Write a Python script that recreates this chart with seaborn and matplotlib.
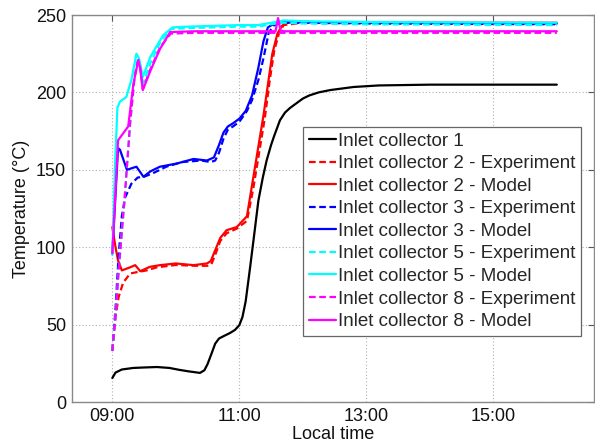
import numpy as np
import pandas as pd
import matplotlib
matplotlib.use("Agg")
import matplotlib.pyplot as plt
import seaborn as sns
from matplotlib.ticker import FixedLocator, FuncFormatter

# ---------------- data (time in hours, temperature in °C) ----------------
t_c1 = [9.0, 9.05, 9.15, 9.33, 9.5, 9.7, 9.9, 10.05, 10.2, 10.38, 10.45, 10.5, 10.56, 10.62, 10.68, 10.75,
        10.85, 10.93, 11.0, 11.05, 11.1, 11.17, 11.24, 11.3, 11.37, 11.43, 11.5, 11.55, 11.64, 11.72, 11.8,
        11.9, 12.0, 12.1, 12.25, 12.43, 12.8, 13.2, 14.0, 16.0]
T_c1 = [15.5, 19.0, 21.0, 22.0, 22.3, 22.6, 22.0, 20.8, 19.8, 18.8, 20.5, 24.5, 31.0, 37.7, 41.0, 42.5,
        44.5, 46.5, 49.6, 55.0, 65.0, 87.0, 110.0, 130.0, 145.0, 156.0, 166.0, 172.0, 182.0, 187.0, 190.0,
        193.0, 196.0, 198.0, 200.0, 201.5, 203.5, 204.5, 205.0, 205.0]

t_c2_exp = [9.0, 9.05, 9.1, 9.17, 9.28, 9.4, 9.54, 9.7, 10.0, 10.3, 10.5, 10.56, 10.62, 10.7, 10.8, 10.96,
            11.12, 11.22, 11.3, 11.4, 11.48, 11.55, 11.63, 11.7, 12.0, 13.0, 16.0]
T_c2_exp = [33.0, 55.0, 68.0, 77.0, 83.0, 84.0, 85.0, 87.0, 88.5, 88.0, 88.0, 89.0, 95.0, 104.0, 109.0, 112.0,
            117.0, 138.0, 158.0, 183.0, 208.0, 227.0, 239.0, 243.5, 245.0, 245.0, 244.5]

t_c2_mod = [9.0, 9.05, 9.09, 9.15, 9.28, 9.36, 9.44, 9.59, 9.75, 10.0, 10.28, 10.49, 10.55, 10.62, 10.7, 10.8, 10.96,
            11.12, 11.22, 11.3, 11.38, 11.45, 11.52, 11.6, 11.67, 11.75, 12.0, 13.0, 16.0]
T_c2_mod = [113.0, 100.0, 91.5, 85.0, 87.0, 88.4, 84.5, 87.3, 88.4, 89.5, 88.4, 89.5, 91.0, 98.0, 106.0, 111.0, 113.0,
            120.0, 145.0, 165.0, 185.0, 205.0, 225.0, 238.0, 243.0, 245.0, 245.5, 245.0, 245.0]

t_c3_exp = [9.0, 9.05, 9.1, 9.15, 9.2, 9.3, 9.4, 9.5, 9.65, 9.85, 10.1, 10.4, 10.55, 10.62, 10.68, 10.75,
            10.82, 10.9, 11.0, 11.12, 11.2, 11.3, 11.38, 11.46, 11.53, 11.65, 12.0, 13.0, 16.0]
T_c3_exp = [33.0, 60.0, 95.0, 120.0, 132.0, 141.0, 145.0, 145.5, 148.0, 152.0, 155.0, 156.0, 155.0, 156.0, 161.0, 170.0,
            176.0, 178.0, 181.0, 188.0, 195.0, 208.0, 222.0, 238.0, 243.0, 245.0, 245.0, 244.5, 244.0]

t_c3_mod = [9.0, 9.09, 9.12, 9.23, 9.38, 9.49, 9.6, 9.75, 10.01, 10.28, 10.49, 10.6, 10.68, 10.75, 10.82, 10.9, 11.0,
            11.1, 11.2, 11.3, 11.38, 11.45, 11.55, 11.7, 12.0, 13.0, 16.0]
T_c3_mod = [96.0, 164.0, 163.0, 150.0, 152.0, 145.5, 149.0, 152.0, 154.0, 157.0, 156.0, 158.0, 166.0, 174.0, 178.0, 180.0, 183.0,
            188.0, 198.0, 216.0, 233.0, 242.0, 244.5, 245.5, 245.5, 245.0, 244.5]

t_c5_exp = [9.0, 9.05, 9.1, 9.15, 9.2, 9.28, 9.35, 9.4, 9.43, 9.48, 9.6, 9.75, 9.92, 10.2, 10.6, 11.0,
            11.3, 11.5, 11.7, 12.0, 13.0, 16.0]
T_c5_exp = [33.0, 55.0, 85.0, 110.0, 135.0, 180.0, 210.0, 221.0, 220.0, 205.0, 219.0, 232.0, 241.0, 241.5, 242.0, 242.5,
            242.5, 244.0, 245.0, 244.5, 244.0, 243.5]

t_c5_mod = [9.0, 9.04, 9.08, 9.12, 9.22, 9.3, 9.38, 9.42, 9.48, 9.6, 9.8, 9.95, 10.2, 10.6, 11.0,
            11.3, 11.5, 11.7, 12.0, 13.0, 16.0]
T_c5_mod = [95.0, 150.0, 190.0, 194.0, 197.0, 208.0, 225.0, 222.0, 210.0, 223.0, 237.0, 242.0, 242.5, 243.0, 243.5,
            243.5, 245.0, 246.5, 246.0, 245.5, 245.0]

t_c8_exp = [9.0, 9.05, 9.1, 9.15, 9.2, 9.28, 9.35, 9.4, 9.43, 9.48, 9.6, 9.75, 9.92, 10.3, 11.0,
            11.5, 12.0, 13.0, 16.0]
T_c8_exp = [33.0, 55.0, 85.0, 110.0, 135.0, 180.0, 210.0, 220.0, 219.0, 202.0, 215.0, 229.0, 238.0, 238.5, 238.5,
            238.5, 238.5, 238.5, 238.5]

t_c8_mod = [9.0, 9.09, 9.17, 9.25, 9.33, 9.41, 9.44, 9.48, 9.6, 9.75, 9.91, 10.3, 11.0, 11.5, 11.57,
            11.61, 11.65, 11.7, 12.0, 13.0, 16.0]
T_c8_mod = [96.0, 169.0, 173.5, 178.0, 205.0, 221.0, 215.0, 201.5, 214.0, 228.0, 239.0, 239.5, 239.5, 239.5, 239.5,
            248.0, 240.0, 239.5, 239.5, 239.5, 239.5]

series = [
    ("Inlet collector 1", t_c1, T_c1, "#000000", "-"),
    ("Inlet collector 2 - Experiment", t_c2_exp, T_c2_exp, "#ff0000", "--"),
    ("Inlet collector 2 - Model", t_c2_mod, T_c2_mod, "#ff0000", "-"),
    ("Inlet collector 3 - Experiment", t_c3_exp, T_c3_exp, "#0000ff", "--"),
    ("Inlet collector 3 - Model", t_c3_mod, T_c3_mod, "#0000ff", "-"),
    ("Inlet collector 5 - Experiment", t_c5_exp, T_c5_exp, "#00ffff", "--"),
    ("Inlet collector 5 - Model", t_c5_mod, T_c5_mod, "#00ffff", "-"),
    ("Inlet collector 8 - Experiment", t_c8_exp, T_c8_exp, "#ff00ff", "--"),
    ("Inlet collector 8 - Model", t_c8_mod, T_c8_mod, "#ff00ff", "-"),
]

x_ticks = [9, 11, 13, 15]
x_tick_labels = ["09:00", "11:00", "13:00", "15:00"]
y_ticks = [0, 50, 100, 150, 200, 250]

# ---------------- plotting ----------------
sns.set_theme(style="white")
plt.rcParams["font.family"] = ["Liberation Sans", "DejaVu Sans"]

fig = plt.figure(figsize=(5.95, 4.44), dpi=100)
ax = fig.add_axes([71.5 / 595, 42 / 444, (594 - 71.5) / 595, 387 / 444])

for name, tx, ty, col, ls in series:
    df = pd.DataFrame({"t": tx, "T": ty})
    sns.lineplot(data=df, x="t", y="T", ax=ax, color=col, linewidth=1.6,
                 label=name, estimator=None, sort=False)
    ln = ax.lines[-1]
    ln.set_solid_joinstyle("round")
    if ls == "--":
        ln.set_linestyle("--")
        ln.set_dashes([3.0, 1.6])

ax.set_xlim(8.357, 16.586)
ax.set_ylim(0, 250)
ax.xaxis.set_major_locator(FixedLocator(x_ticks))
ax.xaxis.set_major_formatter(FuncFormatter(
    lambda v, p: x_tick_labels[x_ticks.index(int(round(v)))] if int(round(v)) in x_ticks else ""))
ax.set_yticks(y_ticks)

ax.grid(True, linestyle=(0, (1, 2)), color="#b0b0b0", linewidth=0.8)
for sp in ax.spines.values():
    sp.set_color("#888888")
    sp.set_linewidth(1.0)

ax.tick_params(axis="both", which="major", direction="in", length=4, width=0.8, color="#555555",
               labelsize=13, labelcolor="#111111", top=True, right=True, pad=4)

ax.set_xlabel("Local time", fontsize=13, color="#111111", labelpad=1)
ax.set_ylabel("Temperature (°C)", fontsize=13, color="#111111", labelpad=4)

leg = ax.legend(loc="upper right", bbox_to_anchor=(0.975, 0.711), borderaxespad=0,
                fontsize=13.5, frameon=True, fancybox=False, framealpha=1, edgecolor="#666666",
                handlelength=1.45, handletextpad=0.1, labelspacing=0.29, borderpad=0.3)
leg.get_frame().set_linewidth(0.9)
for h, (_, _, _, col, ls) in zip(leg.get_lines(), series):
    h.set_linewidth(1.6)
    if ls == "--":
        h.set_linestyle("--")
        h.set_dashes([3.0, 1.6])
    else:
        h.set_linestyle("-")

fig.savefig("out.png", dpi=100)
